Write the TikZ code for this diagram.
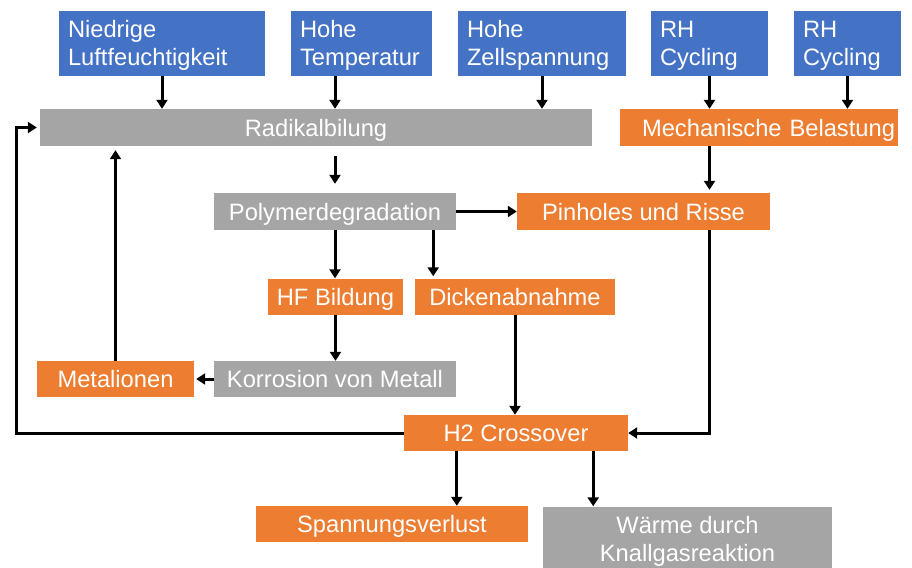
\documentclass[tikz,border=0pt]{standalone}
\usepackage{fontspec}
\setmainfont{Liberation Sans}
\usetikzlibrary{arrows.meta}
\definecolor{blau}{HTML}{4472C4}
\definecolor{orangeton}{HTML}{ED7D31}
\definecolor{grau}{HTML}{A5A5A5}
\tikzstyle{box} = [inner sep=0pt, text=white, font=\fontsize{23.7}{28}\selectfont, minimum height=36pt]
\tikzstyle{zeile} = [text height=20pt, text depth=3pt]
\tikzstyle{ursache} = [box, fill=blau, align=left, minimum height=65pt, text height=21pt, text depth=33pt]
\tikzstyle{folge} = [box, zeile, fill=orangeton]
\tikzstyle{prozess} = [box, zeile, fill=grau]
\tikzstyle{pfeil} = [-{Triangle[length=9pt,width=11pt]}, line width=3pt]

\begin{document}
\begin{tikzpicture}[x=1pt, y=-1pt]
        \useasboundingbox (0,0) rectangle (912,567);

        % Ursachen
        \node[ursache, minimum width=206pt, text width=188pt] (niedrig) at (162,43.5) {Niedrige\\Luftfeuchtigkeit};
        \node[ursache, minimum width=141pt, text width=123pt] (temp) at (361.5,43.5) {Hohe\\Temperatur};
        \node[ursache, minimum width=168pt, text width=150pt] (zell) at (542,43.5) {Hohe\\Zellspannung};
        \node[ursache, minimum width=117pt, text width=99pt] (rh1) at (709.5,43.5) {RH\\Cycling};
        \node[ursache, minimum width=107pt, text width=89pt] (rh2) at (847.5,43.5) {RH\\Cycling};

        \node[prozess, minimum width=552pt, minimum height=37pt] (radikal) at (316,127.5) {Radikalbilung};
        \node[folge, minimum width=278pt, minimum height=37pt, text width=272pt, align=right] (mech) at (759,127.5) {Mechanische Belastung};
        \node[prozess, minimum width=242pt, minimum height=37pt] (poly) at (335,211.5) {Polymerdegradation};
        \node[folge, minimum width=253pt, minimum height=37pt] (pinhole) at (643.5,211.5) {Pinholes und Risse};
        \node[folge, minimum width=135pt] (hf) at (335.5,296.5) {HF Bildung};
        \node[folge, minimum width=200pt] (dicke) at (515,296.5) {Dickenabnahme};
        \node[folge, minimum width=157pt] (metall) at (115.5,379) {Metalionen};
        \node[prozess, minimum width=242pt] (korr) at (335,379) {Korrosion von Metall};
        \node[folge, minimum width=224pt] (htwo) at (516,433) {H2 Crossover};

        % Folgen
        \node[folge, minimum width=272pt] (spannung) at (392,524) {Spannungsverlust};
        \node[box, fill=grau, minimum width=289pt, minimum height=69pt, align=center] (waerme) at (687.5,541) {W\"arme durch\\Knallgasreaktion};

        \coordinate (abzweig) at ([xshift=-23pt]poly.south east);
        \coordinate (links) at ([xshift=53pt]htwo.south west);
        \coordinate (rechts) at ([xshift=-35pt]htwo.south east);
        \coordinate (ruecklauf) at (16,300);

        \draw[pfeil] (niedrig.south) -- (niedrig.south |- radikal.north);
        \draw[pfeil] (temp.south -| poly) -- (poly |- radikal.north);
        \draw[pfeil] (zell.south) -- (zell.south |- radikal.north);
        \draw[pfeil] (rh1.south) -- (rh1.south |- mech.north);
        \draw[pfeil] (rh2.south) -- (rh2.south |- mech.north);
        \draw[pfeil, shorten <=10pt, shorten >=9pt] (poly |- radikal.south) -- (poly.north);
        \draw[pfeil, shorten >=3pt] (rh1 |- mech.south) -- (rh1 |- pinhole.north);
        \draw[pfeil] (poly.east) -- (pinhole.west);
        \draw[pfeil] (poly.south) -- (poly.south |- hf.north);
        \draw[pfeil, shorten >=2pt] (abzweig) -- (abzweig |- dicke.north);
        \draw[pfeil] (hf.south) -- (hf.south |- korr.north);
        \draw[pfeil, shorten >=2pt] (korr.west) -- (metall.east);
        \draw[pfeil, shorten >=4pt] (metall.north) -- (metall.north |- radikal.south);
        \draw[pfeil] (dicke.south) -- (dicke.south |- htwo.north);
        \draw[pfeil] (rh1 |- pinhole.south) |- (htwo.east);
        \draw[pfeil, shorten >=3pt] (htwo.west) -| (ruecklauf) |- (radikal.west);
        \draw[pfeil] (links) -- (links |- spannung.north);
        \draw[pfeil] (rechts) -- (rechts |- waerme.north);
    \end{tikzpicture}
\end{document}
